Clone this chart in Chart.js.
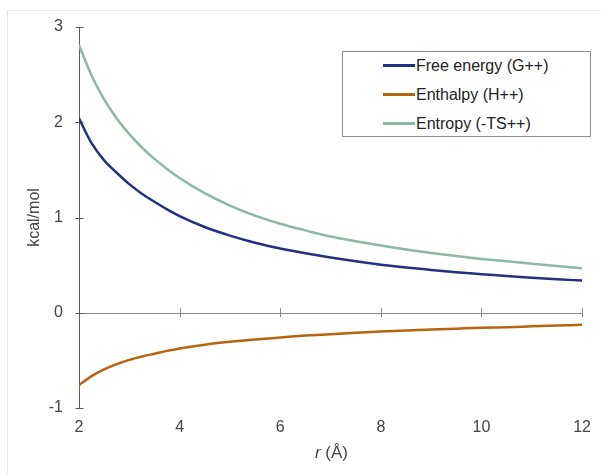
<!DOCTYPE html>
<html>
<head>
<meta charset="utf-8">
<script src="https://cdn.jsdelivr.net/npm/chart.js@4"></script>
<style>
  html, body { margin: 0; padding: 0; background: #fff; overflow: hidden; }
  #wrap { position: relative; width: 601px; height: 474px; }
  #frame { position: absolute; left: 7px; top: 10px; width: 700px; height: 600px; border-left: 1px solid #e4e4e4; border-top: 1px solid #e4e4e4; }
  canvas { position: absolute; left: 0; top: 0; }
  #legend { position: absolute; left: 342px; top: 51px; width: 247px; height: 84px; border: 1px solid #8c8c8c; background: #fff;
            font-family: "Liberation Sans", Arial, sans-serif; font-size: 16px; color: #222; }
  .row { position: absolute; left: 40px; height: 20px; line-height: 20px; white-space: nowrap; }
  .sw { display: inline-block; width: 32px; height: 3px; vertical-align: middle; margin-right: 1px; position: relative; top: -1px; }
  #xtitle { position: absolute; left: 0; width: 663px; top: 443px; text-align: center; font-family: "Liberation Sans", Arial, sans-serif; font-size: 17px; color: #444; }
</style>
</head>
<body>
<div id="wrap">
  <div id="frame"></div>
  <canvas id="c" width="601" height="474"></canvas>
  <div id="legend"></div>
  <div id="xtitle"><i>r</i> (Å)</div>
</div>
<script>
// Data
const rValues = [2, 2.25, 2.5, 2.75, 3, 3.25, 3.5, 3.75, 4, 4.5, 5, 5.5, 6, 6.5, 7, 7.5, 8, 8.5, 9, 9.5, 10, 10.5, 11, 11.5, 12];
const freeEnergy = [2.04, 1.78, 1.60, 1.47, 1.35, 1.25, 1.165, 1.085, 1.015, 0.90, 0.81, 0.735, 0.675, 0.625, 0.58, 0.54, 0.505, 0.475, 0.45, 0.425, 0.405, 0.385, 0.368, 0.352, 0.338];
const enthalpy = [-0.76, -0.665, -0.595, -0.54, -0.495, -0.46, -0.43, -0.40, -0.375, -0.335, -0.305, -0.28, -0.26, -0.24, -0.225, -0.21, -0.197, -0.186, -0.176, -0.167, -0.158, -0.151, -0.143, -0.135, -0.127];
const entropy = [2.81, 2.49, 2.24, 2.04, 1.875, 1.735, 1.615, 1.51, 1.415, 1.255, 1.125, 1.02, 0.935, 0.865, 0.80, 0.75, 0.705, 0.665, 0.628, 0.595, 0.565, 0.54, 0.515, 0.49, 0.468];
const seriesNames = ['Free energy (G++)', 'Enthalpy (H++)', 'Entropy (-TS++)'];
const xTicks = [2, 4, 6, 8, 10, 12];
const yTicks = [-1, 0, 1, 2, 3];
const yTitle = 'kcal/mol';

const colors = ['#22307f', '#b5650f', '#8fb8a0'];
const seriesData = [freeEnergy, enthalpy, entropy];

const datasets = seriesData.map((vals, i) => ({
  label: seriesNames[i],
  data: rValues.map((r, j) => ({ x: r, y: vals[j] })),
  borderColor: colors[i],
  backgroundColor: colors[i],
  borderWidth: 2.5,
  pointRadius: 0,
  cubicInterpolationMode: 'monotone',
  fill: false
}));

// HTML legend with a border box
const legend = document.getElementById('legend');
seriesNames.forEach((name, i) => {
  const row = document.createElement('div');
  row.className = 'row';
  row.style.top = (4 + i * 29) + 'px';
  row.innerHTML = '<span class="sw" style="background:' + colors[i] + '"></span>' + name;
  legend.appendChild(row);
});

const axesPlugin = {
  id: 'crossAxes',
  beforeDatasetsDraw(chart) {
    const ctx = chart.ctx;
    const xs = chart.scales.x, ys = chart.scales.y;
    const x0 = xs.getPixelForValue(xTicks[0]);
    const y0 = ys.getPixelForValue(0);
    ctx.save();
    ctx.lineWidth = 1;
    // x axis at y = 0
    ctx.strokeStyle = '#8a8a8a';
    ctx.beginPath();
    ctx.moveTo(x0, Math.round(y0) + 0.5);
    ctx.lineTo(xs.getPixelForValue(xTicks[xTicks.length - 1]), Math.round(y0) + 0.5);
    xTicks.slice(1).forEach(t => {
      const px = Math.round(xs.getPixelForValue(t)) + 0.5;
      ctx.moveTo(px, y0 - 4.5);
      ctx.lineTo(px, y0 + 4.5);
    });
    ctx.stroke();
    // y axis
    ctx.strokeStyle = '#5e5e5e';
    ctx.beginPath();
    const ax = Math.round(x0) + 0.5;
    ctx.moveTo(ax, ys.getPixelForValue(yTicks[yTicks.length - 1]));
    ctx.lineTo(ax, ys.getPixelForValue(yTicks[0]));
    yTicks.forEach(t => {
      const py = Math.round(ys.getPixelForValue(t)) + 0.5;
      ctx.moveTo(ax - 4, py);
      ctx.lineTo(ax + 4, py);
    });
    ctx.stroke();
    ctx.restore();
  }
};

new Chart(document.getElementById('c'), {
  type: 'line',
  data: { datasets },
  options: {
    responsive: false,
    animation: false,
    events: [],
    layout: { padding: { left: 0, right: 17, top: 27, bottom: 0 } },
    plugins: { legend: { display: false }, tooltip: { enabled: false } },
    scales: {
      x: {
        type: 'linear',
        min: 2, max: 12,
        afterBuildTicks: s => { s.ticks = xTicks.map(v => ({ value: v })); },
        afterFit: s => { s.height = 66; },
        grid: { display: false, drawTicks: false },
        border: { display: false },
        ticks: { padding: 10, color: '#444', font: { family: '"Liberation Sans", Arial, sans-serif', size: 16 } }
      },
      y: {
        type: 'linear',
        min: -1, max: 3,
        afterBuildTicks: s => { s.ticks = yTicks.map(v => ({ value: v })); },
        afterFit: s => { s.width = 79; },
        grid: { display: false, drawTicks: false },
        border: { display: false },
        ticks: { padding: 16, color: '#444', font: { family: '"Liberation Sans", Arial, sans-serif', size: 16 } },
        title: { display: true, text: yTitle, color: '#444', padding: { top: 25, bottom: 0 },
                 font: { family: '"Liberation Sans", Arial, sans-serif', size: 16 } }
      }
    }
  },
  plugins: [axesPlugin]
});
</script>
</body>
</html>
